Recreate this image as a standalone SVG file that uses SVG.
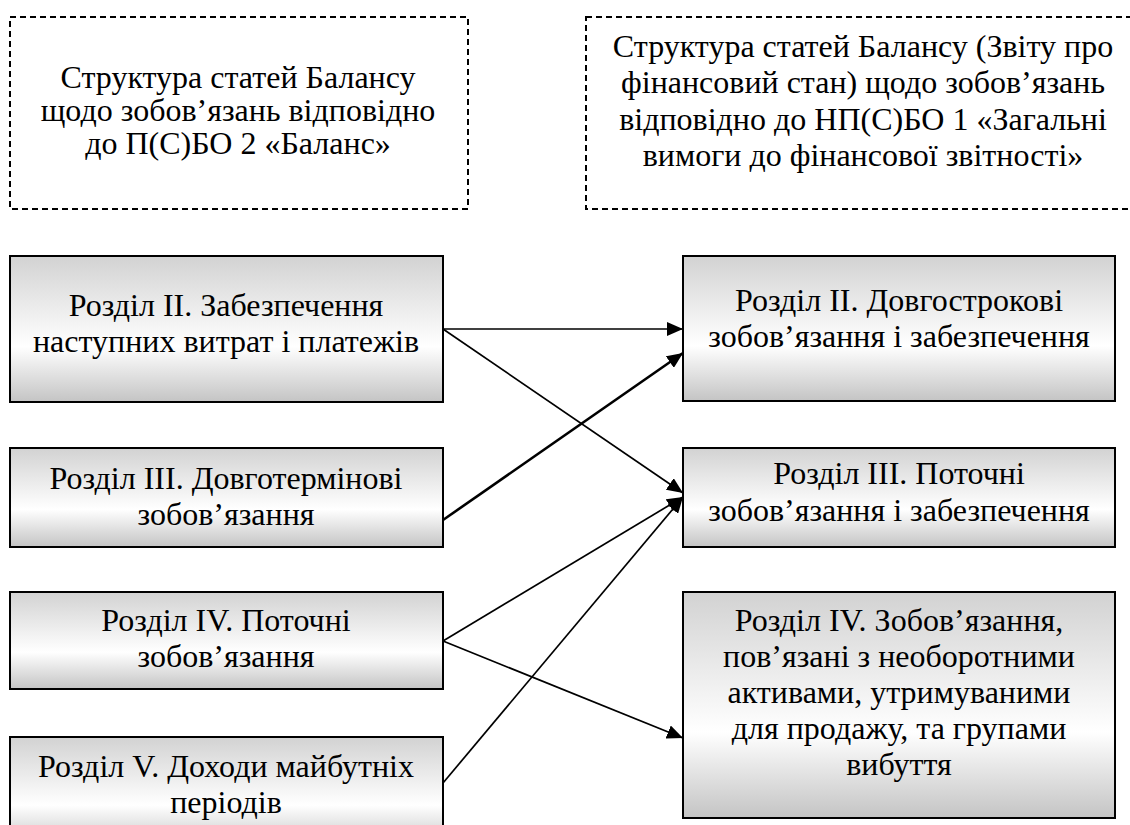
<svg xmlns="http://www.w3.org/2000/svg" width="1130" height="825" viewBox="0 0 1130 825">
  <style>
    .t { font-family: "Liberation Serif", "Times New Roman", serif; font-size: 32px; fill: #000; text-anchor: middle; }
    .dash { fill: none; stroke: #000; stroke-width: 2; stroke-dasharray: 6 4; }
    .box { fill: url(#g); stroke: #000; stroke-width: 2; }
    .c { fill: none; stroke: #000; stroke-width: 1.7; }
    .thick { stroke-width: 2.6; }
  </style>
  <defs>
    <linearGradient id="g" x1="0" y1="0" x2="0" y2="1">
      <stop offset="0" stop-color="#d2d2d2"/>
      <stop offset="0.62" stop-color="#ffffff"/>
      <stop offset="1" stop-color="#c4c4c4"/>
    </linearGradient>
    <marker id="ah" markerUnits="userSpaceOnUse" markerWidth="17" markerHeight="14" refX="16" refY="7" orient="auto">
      <path d="M0,0 L16,7 L0,14 z" fill="#000"/>
    </marker>
  </defs>

  <g id="hdr-left">
    <rect class="dash" x="10" y="17" width="458" height="192"/>
    <text class="t" x="238" y="88">Структура статей Балансу</text>
    <text class="t" x="238" y="121">щодо зобов’язань відповідно</text>
    <text class="t" x="238" y="154">до П(С)БО 2 «Баланс»</text>
  </g>

  <g id="hdr-right">
    <rect class="dash" x="586" y="17" width="560" height="192"/>
    <text class="t" x="863" y="57">Структура статей Балансу (Звіту про</text>
    <text class="t" x="863" y="93">фінансовий стан) щодо зобов’язань</text>
    <text class="t" x="863" y="130">відповідно до НП(С)БО 1 «Загальні</text>
    <text class="t" x="863" y="166">вимоги до фінансової звітності»</text>
  </g>

  <g id="l1">
    <rect class="box" x="10" y="256" width="433" height="146"/>
    <text class="t" x="226" y="316">Розділ ІІ. Забезпечення</text>
    <text class="t" x="226" y="352">наступних витрат і платежів</text>
  </g>
  <g id="l2">
    <rect class="box" x="10" y="448" width="433" height="99"/>
    <text class="t" x="226" y="489">Розділ ІІІ. Довготермінові</text>
    <text class="t" x="226" y="525">зобов’язання</text>
  </g>
  <g id="l3">
    <rect class="box" x="10" y="592" width="433" height="97"/>
    <text class="t" x="226" y="631">Розділ IV. Поточні</text>
    <text class="t" x="226" y="667">зобов’язання</text>
  </g>
  <g id="l4">
    <rect class="box" x="10" y="737" width="433" height="110"/>
    <text class="t" x="226" y="777">Розділ V. Доходи майбутніх</text>
    <text class="t" x="226" y="813">періодів</text>
  </g>

  <g id="r1">
    <rect class="box" x="683" y="256" width="432" height="145"/>
    <text class="t" x="899" y="311">Розділ ІІ. Довгострокові</text>
    <text class="t" x="899" y="347">зобов’язання і забезпечення</text>
  </g>
  <g id="r2">
    <rect class="box" x="683" y="448" width="432" height="99"/>
    <text class="t" x="899" y="484">Розділ ІІІ. Поточні</text>
    <text class="t" x="899" y="521">зобов’язання і забезпечення</text>
  </g>
  <g id="r3">
    <rect class="box" x="683" y="592" width="432" height="226"/>
    <text class="t" x="899" y="631">Розділ IV. Зобов’язання,</text>
    <text class="t" x="899" y="667">пов’язані з необоротними</text>
    <text class="t" x="899" y="703">активами, утримуваними</text>
    <text class="t" x="899" y="739">для продажу, та групами</text>
    <text class="t" x="899" y="775">вибуття</text>
  </g>

  <g id="connectors">
    <line class="c" x1="443" y1="329" x2="683" y2="329" marker-end="url(#ah)"/>
    <line class="c" x1="443" y1="329" x2="683" y2="493" marker-end="url(#ah)"/>
    <line class="c thick" x1="443" y1="520" x2="683" y2="353" marker-end="url(#ah)"/>
    <line class="c" x1="443" y1="641" x2="683" y2="497" marker-end="url(#ah)"/>
    <line class="c" x1="443" y1="641" x2="683" y2="738" marker-end="url(#ah)"/>
    <line class="c" x1="443" y1="783" x2="683" y2="497" marker-end="url(#ah)"/>
  </g>
</svg>
